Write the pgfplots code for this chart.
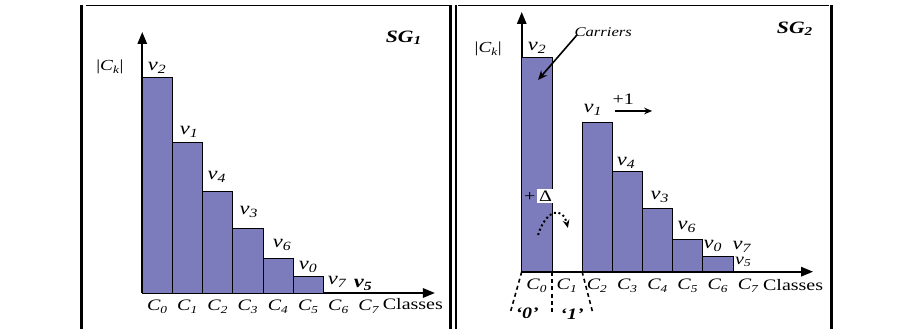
\documentclass[border=0pt]{standalone}
\usepackage{pgfplots}
\pgfplotsset{compat=1.18}
\usetikzlibrary{arrows.meta}
\usepackage{fontspec}
\setmainfont[FakeStretch=1.25]{Liberation Serif}
\definecolor{barc}{RGB}{124,124,188}
\newcommand{\vl}[1]{\textit{v\textsubscript{#1}}}
\newcommand{\cl}[1]{\textit{C\textsubscript{#1}}}
\newcommand{\fs}[1]{\fontsize{#1}{#1}\selectfont}

\pgfplotsset{
  panel/.style={
    scale only axis, anchor=south west,
    axis lines=left,
    axis line style={line width=1.5pt, -{Triangle[length=9pt,width=7pt]}},
    enlargelimits=false, clip=false,
    xmin=0, ymin=0,
    ytick=\empty,
    xtick={0.5,1.5,...,7.5},
    xticklabels={\cl{0},\cl{1},\cl{2},\cl{3},\cl{4},\cl{5},\cl{6},\cl{7}},
    major tick length=0,
    xticklabel style={font=\fs{12}, yshift=-2pt},
    ybar, bar width=1,
  },
  bars/.style={fill=barc, draw=black, line width=0.6pt},
}

\begin{document}
\begin{tikzpicture}
\path[use as bounding box] (0,0) rectangle (681pt,246.75pt);

% left panel: SG1
\begin{axis}[panel, at={(106.7pt,27pt)}, width=219.5pt, height=195.75pt,
  xmax=9.69, ymax=261]
  \addplot[bars] coordinates {(0.5,215.3) (1.5,150.7) (2.5,101.3) (3.5,64.7) (4.5,34.7) (5.5,17)};
  \node[font=\fs{13.5}] at (axis cs:0.49,225) {\vl{2}};
  \node[font=\fs{13.5}] at (axis cs:1.55,161) {\vl{1}};
  \node[font=\fs{13.5}] at (axis cs:2.47,116) {\vl{4}};
  \node[font=\fs{13.5}] at (axis cs:3.53,81) {\vl{3}};
  \node[font=\fs{13.5}] at (axis cs:4.63,48) {\vl{6}};
  \node[font=\fs{13.5}] at (axis cs:5.49,26) {\vl{0}};
  \node[font=\fs{13.5}] at (axis cs:6.45,11) {\vl{7}};
  \node[font=\fs{13.5}\bfseries] at (axis cs:7.31,8) {\vl{5}};
  \node[font=\fs{11.5}] at (axis cs:-1.07,226) {|\cl{k}|};
  \node[font=\fs{13}\bfseries] at (axis cs:8.66,255) {\textit{SG\textsubscript{1}}};
  \node[font=\fs{12}] at (axis cs:8.96,-11.5) {Classes};
\end{axis}

% right panel: SG2
\begin{axis}[panel, at={(391.3pt,42.98pt)}, width=218.5pt, height=194.8pt,
  xmax=9.65, ymax=259.7]
  \addplot[bars] coordinates {(0.5,214.3) (2.5,149.3) (3.5,100) (4.5,63.3) (5.5,32.3) (6.5,15)};
  \node[font=\fs{13.5}] at (axis cs:0.51,223.7) {\vl{2}};
  \node[font=\fs{13.5}] at (axis cs:2.36,161.7) {\vl{1}};
  \node[font=\fs{13.5}] at (axis cs:3.46,108.7) {\vl{4}};
  \node[font=\fs{13.5}] at (axis cs:4.58,74.7) {\vl{3}};
  \node[font=\fs{13.5}] at (axis cs:5.47,44.7) {\vl{6}};
  \node[font=\fs{13.5}] at (axis cs:6.33,25.7) {\vl{0}};
  \node[font=\fs{13.5}] at (axis cs:7.29,24.7) {\vl{7}};
  \node[font=\fs{12}] at (axis cs:7.34,9.7) {\vl{5}};
  \node[font=\fs{12}] at (axis cs:3.36,172.7) {+1};
  \draw[line width=1.2pt, -{Stealth[length=6pt,width=5pt]}] (axis cs:3.09,160.7) -- (axis cs:4.32,160.7);
  \node[font=\fs{10}\itshape] at (axis cs:2.70,239.7) {Carriers};
  \draw[line width=1.2pt, -{Stealth[length=7pt,width=6pt]}] (axis cs:1.83,236.7) -- (axis cs:0.54,191.7);
  \node[font=\fs{11.5}] at (axis cs:-1.11,222.7) {|\cl{k}|};
  \node[font=\fs{13}\bfseries] at (axis cs:9.05,242.7) {\textit{SG\textsubscript{2}}};
  \node[font=\fs{12}] at (axis cs:8.99,-13.8) {Classes};
  \node[font=\fs{12}] at (axis cs:0.27,74.7) {+};
  \node[font=\fs{12}, fill=white, inner sep=1.5pt] at (axis cs:0.79,75.7) {Δ};
  \draw[dotted, line width=1.5pt, -{Stealth[length=6pt,width=5pt]}]
    (axis cs:0.54,36.7) .. controls (axis cs:0.8,62) and (axis cs:1.35,66) .. (axis cs:1.53,43.7);
  \draw[dashed, line width=1.2pt, dash pattern=on 3pt off 2.5pt] (axis cs:0,0) -- (axis cs:-0.39,-42);
  \draw[dashed, line width=1.2pt, dash pattern=on 3pt off 2.5pt] (axis cs:1,0) -- (axis cs:1,-42);
  \draw[dashed, line width=1.2pt, dash pattern=on 3pt off 2.5pt] (axis cs:2,0) -- (axis cs:2.36,-42);
  \node[font=\fs{12}\bfseries\itshape] at (axis cs:0.18,-42) {`0'};
  \node[font=\fs{12}\bfseries\itshape] at (axis cs:1.67,-42) {`1'};
\end{axis}

% panel frames
\draw[line width=0.75pt] (64.5pt,242.25pt) -- (338pt,242.25pt);
\draw[line width=0.75pt] (343.5pt,242.25pt) -- (622pt,242.25pt);
\draw[line width=1.9pt] (61.3pt,0) -- (61.3pt,243pt);
\draw[line width=1.9pt] (338pt,0) -- (338pt,243pt);
\draw[line width=1.9pt] (342pt,0) -- (342pt,243pt);
\draw[line width=1.9pt] (623.8pt,0) -- (623.8pt,243pt);
\end{tikzpicture}
\end{document}
